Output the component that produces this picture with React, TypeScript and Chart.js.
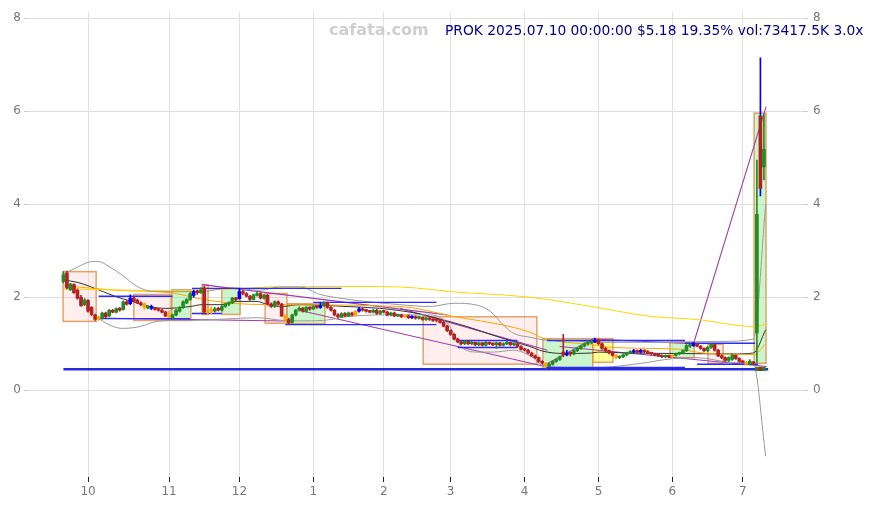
import React, { useEffect, useRef } from 'react';
import { Chart, registerables } from 'chart.js';
Chart.register(...registerables);

const MONTH_IDX = [7, 30, 50, 71, 91, 110, 131, 152, 173, 193];
const MONTH_LABELS = ['10', '11', '12', '1', '2', '3', '4', '5', '6', '7'];
const Y_TICKS = [0, 2, 4, 6, 8];
const Y_MIN = -1.866;
const Y_MAX = 8.129;

const OPEN = [2.34,2.52,2.16,2.27,2.15,2.0,1.84,1.93,1.78,1.62,1.52,1.55,1.66,1.6,1.72,1.68,1.76,1.74,1.9,1.86,
1.98,1.94,1.88,1.86,1.77,1.8,1.76,1.75,1.72,1.68,1.6,1.56,1.62,1.7,1.78,1.88,1.95,2.04,2.12,2.1,
2.2,1.68,1.73,1.7,1.76,1.72,1.8,1.85,1.88,1.98,1.97,2.12,2.08,2.02,1.95,2.04,2.08,1.98,2.04,1.85,
1.8,1.9,1.85,1.6,1.52,1.46,1.62,1.72,1.76,1.7,1.78,1.75,1.8,1.78,1.82,1.88,1.78,1.72,1.62,1.58,
1.65,1.6,1.66,1.62,1.7,1.75,1.72,1.7,1.68,1.72,1.65,1.7,1.68,1.62,1.66,1.6,1.62,1.58,1.6,1.56,
1.58,1.55,1.57,1.52,1.55,1.52,1.52,1.5,1.46,1.38,1.28,1.2,1.1,1.04,1.0,1.05,1.0,1.03,0.98,1.02,
0.97,1.03,1.0,0.98,1.02,0.97,1.0,1.03,0.98,1.0,0.94,0.88,0.86,0.8,0.74,0.7,0.62,0.58,0.52,0.56,
0.62,0.66,0.82,0.76,0.8,0.78,0.85,0.9,0.95,1.0,1.02,1.04,1.08,1.0,0.9,0.85,0.8,0.75,0.7,0.72,
0.76,0.8,0.82,0.85,0.82,0.86,0.83,0.8,0.78,0.76,0.74,0.72,0.74,0.72,0.75,0.78,0.8,0.85,0.95,0.96,
1.0,0.95,0.9,0.85,0.92,0.98,0.86,0.74,0.7,0.64,0.66,0.75,0.68,0.62,0.6,0.56,0.6,1.23,5.9,4.8];
const HIGH = [2.55,2.56,2.3,2.29,2.18,2.04,1.97,1.95,1.8,1.64,1.6,1.68,1.68,1.74,1.74,1.77,1.78,1.92,1.93,2.05,
2.0,1.96,1.9,1.88,1.82,1.83,1.78,1.76,1.74,1.7,1.7,1.64,1.74,1.8,1.92,1.97,2.1,2.16,2.16,2.2,
2.24,1.8,1.8,1.78,1.78,1.82,1.87,1.9,2.0,2.0,2.19,2.15,2.1,2.04,2.07,2.12,2.1,2.06,2.06,1.88,
1.92,1.92,1.87,1.62,1.55,1.64,1.74,1.8,1.78,1.8,1.8,1.82,1.82,1.88,1.9,1.9,1.8,1.74,1.65,1.67,
1.67,1.68,1.68,1.72,1.78,1.77,1.74,1.72,1.74,1.74,1.72,1.72,1.7,1.68,1.68,1.64,1.64,1.62,1.62,1.6,
1.6,1.59,1.58,1.57,1.56,1.54,1.53,1.52,1.48,1.4,1.3,1.22,1.12,1.06,1.07,1.06,1.05,1.04,1.04,1.03,
1.05,1.04,1.02,1.04,1.03,1.02,1.05,1.04,1.02,1.01,0.96,0.9,0.88,0.82,0.76,0.72,0.64,0.6,0.58,0.64,
0.68,0.74,1.2,0.86,0.82,0.87,0.92,0.97,1.02,1.04,1.07,1.12,1.1,1.02,0.92,0.87,0.82,0.77,0.74,0.78,
0.82,0.85,0.88,0.87,0.88,0.87,0.85,0.82,0.8,0.78,0.76,0.76,0.75,0.77,0.8,0.82,0.87,0.98,1.0,1.03,
1.01,0.96,0.91,0.94,1.0,0.99,0.88,0.76,0.72,0.72,0.78,0.76,0.7,0.64,0.62,0.66,0.62,4.95,7.15,5.94];
const LOW = [2.3,2.18,2.14,2.08,1.96,1.8,1.82,1.68,1.6,1.5,1.5,1.53,1.56,1.58,1.66,1.66,1.7,1.72,1.83,1.84,
1.9,1.86,1.82,1.74,1.75,1.73,1.72,1.7,1.66,1.58,1.56,1.52,1.6,1.68,1.76,1.86,1.93,2.0,2.06,2.08,
1.64,1.63,1.64,1.68,1.7,1.7,1.78,1.82,1.86,1.92,1.96,2.05,2.0,1.93,1.94,2.02,1.96,1.96,1.83,1.78,
1.78,1.83,1.58,1.48,1.42,1.44,1.6,1.7,1.68,1.68,1.72,1.73,1.76,1.76,1.8,1.76,1.7,1.6,1.55,1.56,
1.58,1.58,1.6,1.6,1.68,1.7,1.68,1.66,1.66,1.63,1.63,1.66,1.6,1.6,1.58,1.58,1.56,1.56,1.54,1.54,
1.53,1.53,1.5,1.5,1.5,1.48,1.47,1.44,1.36,1.26,1.18,1.08,1.02,0.98,0.98,0.98,0.98,0.96,0.96,0.95,
0.95,0.98,0.96,0.9,0.95,0.95,0.98,0.96,0.96,0.92,0.86,0.84,0.78,0.72,0.68,0.6,0.56,0.48,0.5,0.54,
0.6,0.64,0.72,0.74,0.74,0.76,0.83,0.88,0.93,0.97,1.0,1.02,0.98,0.88,0.83,0.78,0.73,0.68,0.68,0.7,
0.74,0.78,0.8,0.8,0.8,0.81,0.78,0.76,0.74,0.72,0.7,0.7,0.7,0.7,0.73,0.76,0.78,0.83,0.92,0.94,
0.93,0.88,0.83,0.83,0.9,0.84,0.72,0.68,0.62,0.62,0.64,0.66,0.6,0.58,0.54,0.55,0.55,0.6,4.18,4.52];
const CLOSE = [2.48,2.2,2.28,2.1,1.98,1.82,1.94,1.7,1.63,1.52,1.56,1.66,1.58,1.72,1.68,1.75,1.72,1.9,1.85,1.98,
1.92,1.88,1.84,1.78,1.8,1.76,1.74,1.72,1.68,1.6,1.58,1.62,1.72,1.78,1.9,1.95,2.08,2.12,2.1,2.16,
1.68,1.72,1.7,1.75,1.72,1.8,1.85,1.88,1.98,1.95,2.12,2.08,2.02,1.95,2.05,2.08,1.98,2.04,1.85,1.8,
1.9,1.85,1.6,1.52,1.45,1.62,1.72,1.76,1.7,1.78,1.75,1.8,1.78,1.82,1.88,1.78,1.72,1.62,1.58,1.65,
1.6,1.66,1.62,1.7,1.75,1.72,1.7,1.68,1.72,1.65,1.7,1.68,1.62,1.66,1.6,1.62,1.58,1.6,1.56,1.58,
1.55,1.57,1.52,1.55,1.52,1.5,1.5,1.46,1.38,1.28,1.2,1.1,1.04,1.0,1.05,1.0,1.03,0.98,1.02,0.97,
1.03,1.0,0.98,1.02,0.97,1.0,1.03,0.98,1.0,0.94,0.88,0.86,0.8,0.74,0.7,0.62,0.58,0.52,0.56,0.62,
0.66,0.72,0.76,0.8,0.78,0.85,0.9,0.95,1.0,1.02,1.05,1.08,1.0,0.9,0.85,0.8,0.75,0.7,0.72,0.76,
0.8,0.83,0.85,0.82,0.86,0.83,0.8,0.78,0.76,0.74,0.72,0.74,0.72,0.75,0.78,0.8,0.85,0.96,0.98,1.0,
0.95,0.9,0.85,0.92,0.98,0.86,0.74,0.7,0.64,0.7,0.75,0.68,0.62,0.6,0.56,0.62,0.58,3.78,4.34,5.18];

const BLUE_BARS = [19, 25, 37, 50, 73, 84, 99, 143, 151, 162, 164, 179];
const BLUE_WICK_BARS = [198];
const ORANGE_BARS = [10, 23, 30, 41, 42, 63, 83, 97, 137, 157, 173, 194];

const MARK_BARS = [197, 198, 199];
const MARK_LO = 0.42;
const MARK_HI = 0.5;

const MA_BLACK = [[0,2.37],[4,2.32],[7.6,2.23],[15,2.01],[20,1.9],[24.6,1.8],[29,1.76],[36,1.8],[39.4,1.84],[45,1.84],[49,1.91],[55,1.91],[58,1.84],[62,1.8],[67,1.84],[80.6,1.8],[90,1.76],[101.3,1.64],[106,1.55],[114.6,1.37],[123,1.16],[132.5,0.94],[136.2,0.84],[142,0.79],[150,0.8],[152,0.82],[160,0.8],[175,0.79],[190,0.78],[196,0.8],[199.5,1.3]];
const BAND_UP = [[0,2.5],[3.3,2.62],[7,2.75],[9.8,2.77],[13.2,2.65],[16.6,2.48],[21.2,2.22],[26,2.12],[35.4,2.12],[39,2.12],[47.3,2.2],[55.9,2.15],[61.5,2.22],[67.2,2.22],[72.9,2.06],[78.6,1.98],[84.3,1.92],[95.6,1.84],[104.1,1.8],[111,1.87],[116.9,1.84],[121.2,1.7],[125,1.4],[128,1.22],[132.5,1.14],[136.8,1.08],[145.3,1.06],[152.4,1.03],[166.6,1.03],[178,1.04],[186.5,1.05],[196,1.1],[199.5,4.0]];
const BAND_LO = [[9.8,1.55],[13.2,1.4],[16.6,1.33],[21.2,1.36],[26,1.47],[31,1.5],[36,1.5],[45.4,1.53],[55,1.56],[62.4,1.5],[67.2,1.49],[73.7,1.5],[80.6,1.58],[90,1.62],[104.1,1.62],[109,1.45],[113.5,0.9],[118,0.82],[122,0.82],[128,0.86],[133,0.72],[136.5,0.52],[150,0.48],[158,0.52],[166,0.6],[173,0.68],[180,0.7],[190,0.6],[196,0.56],[199.5,-1.42]];
const MA_YELLOW = [[0,2.18],[30,2.14],[50,2.18],[61.5,2.23],[90,2.23],[100,2.2],[110,2.12],[132.5,2.0],[150,1.8],[166.6,1.59],[180,1.52],[196.2,1.37],[199.5,1.42]];
const MA_ORANGE = [[0,2.25],[15,2.15],[30,2.1],[40,1.95],[50,1.86],[61.5,1.84],[95.6,1.8],[110,1.6],[132.5,1.25],[136.2,1.12],[150,0.98],[156,0.92],[175,0.88],[182,0.8],[196.2,0.77],[199.5,1.0]];

const PURPLE_SEGS = [[9.5,1.55,63,1.49],[39.4,2.27,109,1.62],[67,1.72,136.2,0.52],[95.6,1.76,137.5,0.86],[136.2,0.52,150.4,1.1],[150.4,1.1,179,1.0],[179,1.0,199.6,6.1],[141,0.94,199.8,0.51]];
const BLUE_SEGS = [[10,31,2.02],[10,36,1.54],[36.5,45,1.65],[36.5,79,2.19],[71,106,1.89],[63,106,1.41],[112,129,1.07],[112,129,0.92],[137.4,176.6,1.07],[176.6,196.5,1.01],[180,197.3,0.56],[137,176.6,0.49]];
const THICK_SEG = [0, 200.2, 0.45];

const BOXES: [number, number, number, number, string][] = [
  [-0.1, 9.3, 1.48, 2.55, 'p'], [20, 30.6, 1.5, 2.06, 'p'], [30.8, 36.2, 1.5, 2.16, 'g'],
  [39.4, 41.1, 1.63, 2.27, 'p'], [45, 50.2, 1.63, 2.19, 'g'], [57.3, 63.5, 1.44, 2.08, 'p'],
  [63.5, 74.3, 1.43, 1.86, 'g'], [102.2, 134.5, 0.56, 1.58, 'p'], [136.2, 150.4, 0.47, 1.11, 'g'],
  [150.4, 156.1, 0.6, 1.11, 'y'], [172.3, 179.2, 0.7, 1.03, 'g'], [183.1, 187.4, 0.58, 0.99, 'p'],
  [196.2, 199.6, 0.58, 5.96, 'g'],
];
const BOX_FILL: Record<string, string> = { p: 'rgba(255,200,200,0.3)', g: 'rgba(140,235,140,0.45)', y: 'rgba(255,255,80,0.6)' };

const TITLE = 'PROK 2025.07.10 00:00:00 $5.18 19.35% vol:73417.5K 3.0x';
const WATERMARK = 'cafata.com';

const GREEN = '#228b22';
const RED = '#b22222';

function bodyColor(i: number) {
  if (BLUE_BARS.includes(i)) return '#0000ff';
  if (ORANGE_BARS.includes(i)) return '#ffa500';
  return CLOSE[i] >= OPEN[i] ? GREEN : RED;
}
function wickColor(i: number) {
  if (BLUE_WICK_BARS.includes(i)) return '#0000ff';
  return bodyColor(i);
}

const overlayPlugin = {
  id: 'overlay',
  beforeDatasetsDraw(chart: any) {
    const { ctx, chartArea } = chart;
    const x = chart.scales.x, y = chart.scales.y;
    ctx.save();
    ctx.beginPath();
    ctx.rect(chartArea.left, chartArea.top, chartArea.right - chartArea.left, chartArea.bottom - chartArea.top);
    ctx.clip();
    BOXES.forEach(([x1, x2, lo, hi, k]) => {
      const px1 = x.getPixelForValue(x1), px2 = x.getPixelForValue(x2);
      const py1 = y.getPixelForValue(hi), py2 = y.getPixelForValue(lo);
      ctx.fillStyle = BOX_FILL[k];
      ctx.fillRect(px1, py1, px2 - px1, py2 - py1);
      ctx.strokeStyle = 'rgba(225,140,70,0.8)';
      ctx.lineWidth = 1.5;
      ctx.strokeRect(px1, py1, px2 - px1, py2 - py1);
    });
    ctx.restore();
  },
  afterDraw(chart: any) {
    const { ctx } = chart;
    ctx.save();
    ctx.textBaseline = 'middle';
    ctx.textAlign = 'left';
    ctx.font = 'bold 16px "DejaVu Sans"';
    ctx.fillStyle = '#cfcfcf';
    ctx.fillText(WATERMARK, 329, 31);
    ctx.font = '13.8px "DejaVu Sans"';
    ctx.fillStyle = '#00008b';
    ctx.fillText(TITLE, 445, 31);
    ctx.restore();
  },
};

function lineDs(points: number[][], color: string, width: number, smooth = true) {
  return {
    type: 'line' as const,
    data: points.map(([a, b]) => ({ x: a, y: b })),
    borderColor: color,
    borderWidth: width,
    pointRadius: 0,
    fill: false,
    cubicInterpolationMode: smooth ? ('monotone' as const) : ('default' as const),
    tension: 0,
    order: 5,
  };
}

export default function App() {
  const ref = useRef<HTMLCanvasElement>(null);
  useEffect(() => {
    Chart.defaults.font.family = '"DejaVu Sans"';
    const idx = CLOSE.map((_, i) => i);
    const datasets: any[] = [];
    datasets.push(lineDs([[THICK_SEG[0], THICK_SEG[2]], [THICK_SEG[1], THICK_SEG[2]]], '#2a2ae0', 2.6, false));
    BLUE_SEGS.forEach(([a, b, v]) => datasets.push(lineDs([[a, v], [b, v]], '#2b2bff', 1.4, false)));
    datasets.push(lineDs(BAND_UP, '#9a9a9a', 1));
    datasets.push(lineDs(BAND_LO, '#9a9a9a', 1));
    datasets.push(lineDs(MA_YELLOW, '#ffd700', 1));
    datasets.push(lineDs(MA_ORANGE, '#ffa500', 1));
    datasets.push(lineDs(MA_BLACK, '#333333', 1));
    PURPLE_SEGS.forEach(([a, v1, b, v2]) => datasets.push(lineDs([[a, v1], [b, v2]], '#a040a8', 1.1, false)));
    datasets.push({
      type: 'bar',
      data: idx.map((i) => ({ x: i, y: [LOW[i], HIGH[i]] })),
      backgroundColor: idx.map(wickColor),
      barThickness: 1,
      grouped: false,
      order: 1,
    });
    datasets.push({
      type: 'bar',
      data: idx.map((i) => ({ x: i, y: [Math.min(OPEN[i], CLOSE[i]), Math.max(OPEN[i], CLOSE[i])] })),
      backgroundColor: idx.map(bodyColor),
      barThickness: 3,
      minBarLength: 1.5,
      grouped: false,
      order: 0,
    });
    datasets.push({
      type: 'bar',
      data: MARK_BARS.map((i) => ({ x: i, y: [MARK_LO, MARK_HI] })),
      backgroundColor: MARK_BARS.map((i) => (CLOSE[i] >= OPEN[i] ? GREEN : RED)),
      barThickness: 3,
      grouped: false,
      order: 0,
    });

    const chart = new Chart(ref.current!, {
      type: 'bar',
      data: { datasets },
      options: {
        animation: false,
        responsive: true,
        maintainAspectRatio: false,
        layout: { padding: { top: 0, left: 0, right: 0, bottom: 0 } },
        plugins: { legend: { display: false }, tooltip: { enabled: false } },
        scales: {
          x: {
            type: 'linear',
            min: -10.06,
            max: 210.1,
            offset: false,
            grid: { color: '#e0e0e0', offset: false, tickLength: 5, tickColor: '#222', drawTicks: true },
            border: { display: false },
            ticks: {
              autoSkip: false,
              maxRotation: 0,
              color: '#777',
              font: { size: 12 },
              padding: 3,
              callback: (_v: any, i: number) => MONTH_LABELS[i],
            },
            afterBuildTicks: (s: any) => { s.ticks = MONTH_IDX.map((v) => ({ value: v })); },
            afterFit: (s: any) => { s.height = 33; },
          },
          y: {
            type: 'linear',
            position: 'left',
            min: Y_MIN,
            max: Y_MAX,
            grid: { color: '#dedede', tickLength: 4, tickColor: '#cccccc' },
            border: { display: false },
            ticks: { color: '#777', font: { size: 12 }, padding: 3 },
            afterBuildTicks: (s: any) => { s.ticks = Y_TICKS.map((v) => ({ value: v })); },
            afterFit: (s: any) => { s.width = 28; },
          },
          y2: {
            type: 'linear',
            position: 'right',
            min: Y_MIN,
            max: Y_MAX,
            grid: { drawOnChartArea: false, tickLength: 5, tickColor: '#cccccc' },
            border: { display: false },
            ticks: { color: '#777', font: { size: 12 }, padding: 5 },
            afterBuildTicks: (s: any) => { s.ticks = Y_TICKS.map((v) => ({ value: v })); },
            afterFit: (s: any) => { s.width = 71; },
          },
        },
      },
      plugins: [overlayPlugin],
    } as any);
    return () => chart.destroy();
  }, []);
  return (
    <div style={{ position: 'absolute', left: 0, top: 0, width: 874, height: 510, background: '#fff' }}>
      <canvas ref={ref} />
    </div>
  );
}
